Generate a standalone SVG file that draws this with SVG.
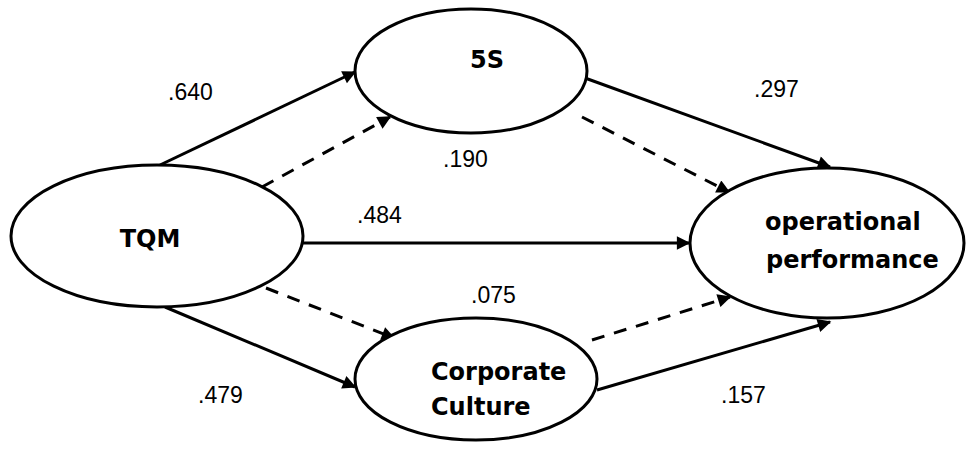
<svg xmlns="http://www.w3.org/2000/svg" width="968" height="457" viewBox="0 0 968 457">
<style>
.node{fill:#fff;stroke:#000;stroke-width:3}
.nt{font-family:"DejaVu Sans",Verdana,sans-serif;font-weight:bold;font-size:24px;fill:#000}
.lb{font-family:"Liberation Sans",Arial,sans-serif;font-size:23px;fill:#000}
.c{stroke:#000;stroke-width:3;fill:none;marker-end:url(#ah)}
.d{stroke-dasharray:13 10}
</style>
<defs>
<marker id="ah" viewBox="0 0 10 10" refX="9" refY="5" markerWidth="5" markerHeight="4.5" markerUnits="strokeWidth" orient="auto">
<path d="M0,0 L10,5 L0,10 z" fill="#000"/>
</marker>
</defs>
<g id="connectors">
<line class="c" x1="160" y1="165" x2="355" y2="72"/>
<line class="c d" x1="262" y1="187" x2="390" y2="117"/>
<line class="c" x1="585" y1="78" x2="830" y2="167"/>
<line class="c d" x1="582" y1="117" x2="729" y2="192"/>
<line class="c" x1="303" y1="243" x2="689" y2="243"/>
<line class="c d" x1="266" y1="288" x2="394" y2="338"/>
<line class="c" x1="165" y1="307" x2="355" y2="387"/>
<line class="c d" x1="592" y1="340" x2="730" y2="297"/>
<line class="c" x1="597" y1="390" x2="830" y2="322"/>
</g>
<g id="TQM">
<ellipse class="node" cx="157" cy="236" rx="146" ry="71"/>
<text class="nt" x="150" y="247" text-anchor="middle">TQM</text>
</g>
<g id="S5">
<ellipse class="node" cx="471" cy="71" rx="116" ry="62"/>
<text class="nt" x="487" y="68" text-anchor="middle">5S</text>
</g>
<g id="OP">
<ellipse class="node" cx="827" cy="243" rx="137" ry="75"/>
<text class="nt" x="765" y="230">operational</text>
<text class="nt" x="766" y="268">performance</text>
</g>
<g id="CC">
<ellipse class="node" cx="476" cy="379" rx="121" ry="61"/>
<text class="nt" x="431" y="380">Corporate</text>
<text class="nt" x="431" y="415">Culture</text>
</g>
<g id="labels">
<text class="lb" x="168" y="100">.640</text>
<text class="lb" x="443" y="167">.190</text>
<text class="lb" x="754" y="97">.297</text>
<text class="lb" x="357" y="223">.484</text>
<text class="lb" x="471" y="303">.075</text>
<text class="lb" x="198" y="403">.479</text>
<text class="lb" x="721" y="403">.157</text>
</g>
</svg>
